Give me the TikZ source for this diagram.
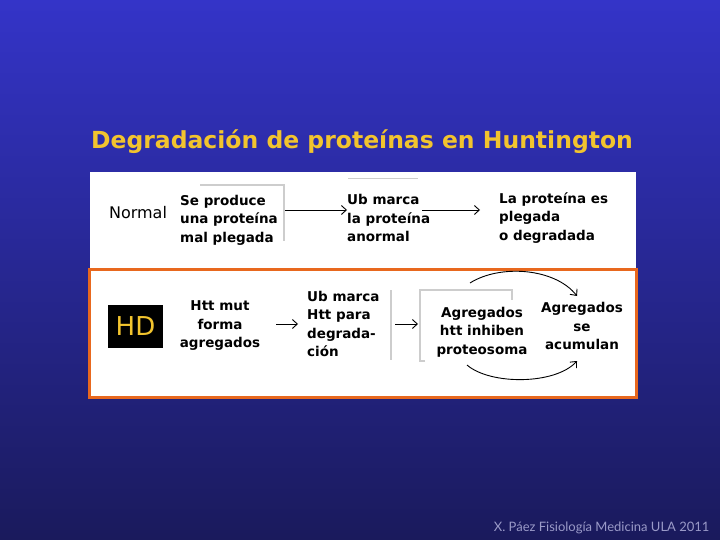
\documentclass[tikz,border=0pt]{standalone}
\usepackage{fontspec}
\setmainfont{DejaVu Sans}
\newfontfamily\footfont{Lato}
\usetikzlibrary{arrows.meta,calc}
\definecolor{bgtop}{HTML}{3434C8}
\definecolor{bgmid}{HTML}{2A2AA4}
\definecolor{bgbot}{HTML}{1A1A5C}
\definecolor{titleyellow}{HTML}{F2C42E}
\definecolor{frameorange}{HTML}{E8681E}
\definecolor{shadowgray}{HTML}{CDCDCD}
\definecolor{footgray}{HTML}{9A9AC8}
\tikzset{
  boxtext/.style={font=\bfseries\fontsize{13.5}{18.5}\selectfont, inner sep=0pt, text=black},
  grayline/.style={draw=shadowgray, line width=2pt},
  flowarrow/.style={-{Straight Barb[length=5pt,width=9pt]}, line width=0.9pt, black},
}
\begin{document}
\begin{tikzpicture}[x=1pt,y=-1pt]
\useasboundingbox (0,0) rectangle (720,540);
\shade[top color=bgtop, middle color=bgmid, bottom color=bgbot] (0,0) rectangle (720,540);
% title
\node[font=\bfseries\fontsize{23.5}{28}\selectfont, text=titleyellow] (title) at (362,142) {Degradación de proteínas en Huntington};
% white panel
\fill[white] (90,172) rectangle (636,398);
\draw[frameorange, line width=3pt] (89.5,269.5) rectangle (636.5,397.5);
% Normal row
\node[font=\fontsize{16}{18}\selectfont, inner sep=0pt] (normal) at (138,213) {Normal};
\draw[grayline] (200,185) -- (284,185) -- (284,241);
\coordinate (g0) at (285,210);
\node[boxtext, align=left, anchor=west] (n1) at (180,220) {Se produce\\una proteína\\mal plegada};
\draw[draw=shadowgray, line width=1pt] (348,179) -- (418,179);
\node[boxtext, align=left, anchor=west] (n2) at (347,218) {Ub marca\\la proteína\\anormal};
\node[boxtext, align=left, anchor=west] (n3) at (499,218) {La proteína es\\plegada\\o degradada};
\draw[flowarrow] (g0) -- ($(n2.west)+(0,-8)$);
\draw[flowarrow] ($(n2.west)+(75,-8)$) -- ($(n3.west)+(-19,-8)$);
% HD row
\node[fill=black, text=titleyellow, minimum width=55pt, minimum height=43pt, inner sep=0pt, font=\fontsize{26}{28}\selectfont] (hd) at (135.5,326.5) {HD};
\node[boxtext, align=center] (h1) at (220,326) {Htt mut\\forma\\agregados};
\node[boxtext, align=left, anchor=west] (h2) at (307,324) {Ub marca\\Htt para\\degrada-\\ción};
\draw[grayline] (391,290) -- (391,360);
\coordinate (g1) at (395,324);
\draw[grayline] (425,361) -- (420,361) -- (420,290) -- (512,290) -- (512,300);
\node[boxtext, align=center] (h3) at (482,332) {Agregados\\htt inhiben\\proteosoma};
\node[boxtext, align=center] (h4) at (582,326) {Agregados\\se\\acumulan};
\draw[flowarrow] ($(h2.west)+(-31,0)$) -- ($(h2.west)+(-9,0)$);
\draw[flowarrow] (g1) -- ($(g1)+(23,0)$);
\draw[-{Straight Barb[length=5pt,width=9pt]}, line width=0.9pt] (470,283) .. controls (500,264) and (555,268) .. (577,296);
\draw[-{Straight Barb[length=5pt,width=9pt]}, line width=0.9pt] (467,365) .. controls (490,385) and (555,385) .. (577,361);
% footer
\node[font=\footfont\fontsize{13}{15}\selectfont, text=footgray, anchor=east] (foot) at (713,528) {X. Páez Fisiología Medicina ULA 2011};
\end{tikzpicture}
\end{document}
